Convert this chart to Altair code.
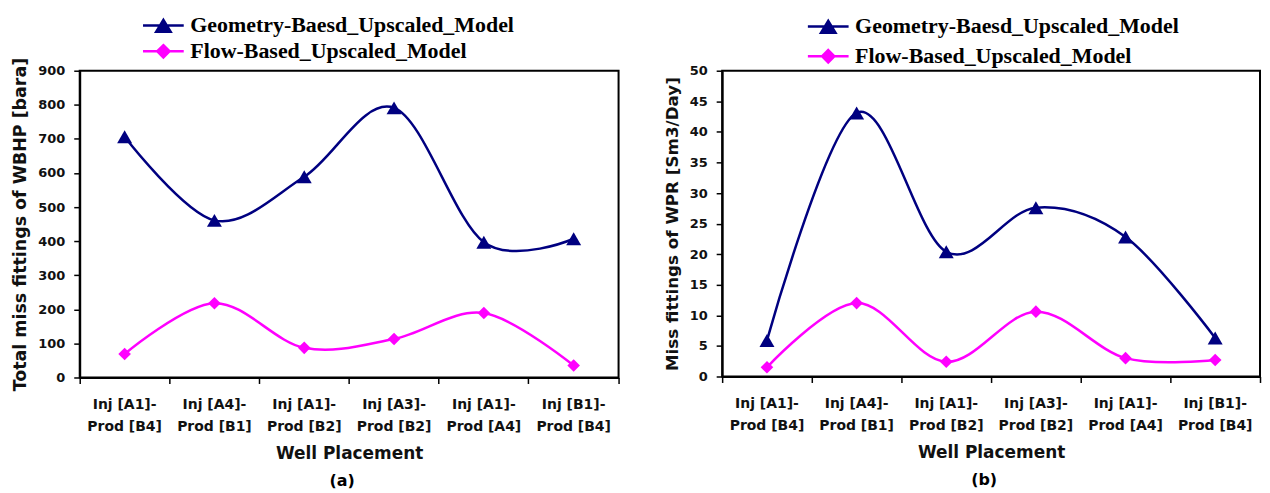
import altair as alt
import pandas as pd

categories = ["Inj [A1]-Prod [B4]", "Inj [A4]-Prod [B1]", "Inj [A1]-Prod [B2]",
              "Inj [A3]-Prod [B2]", "Inj [A1]-Prod [A4]", "Inj [B1]-Prod [B4]"]
series_geo = "Geometry-Baesd_Upscaled_Model"
series_flow = "Flow-Based_Upscaled_Model"

wbhp_geo = [706, 461, 589, 791, 397, 407]
wbhp_flow = [69, 218, 87, 113, 189, 35]
wpr_geo = [5.9, 43.1, 20.4, 27.6, 22.8, 6.3]
wpr_flow = [1.5, 12.0, 2.4, 10.6, 3.0, 2.7]

wbhp_ticks = [0, 100, 200, 300, 400, 500, 600, 700, 800, 900]
wpr_ticks = [0, 5, 10, 15, 20, 25, 30, 35, 40, 45, 50]

NAVY = "#000080"
MAGENTA = "#FF00FF"
TRI = "M-1.46,0L1.46,0M-0.52,0.46L0,-0.4L0.52,0.46Z"
DIA = "M-1.46,0L1.46,0M0,-0.44L0.44,0L0,0.44L-0.44,0Z"

SANS = "DejaVu Sans"
SERIF = "Liberation Serif"


def panel(geo, flow, ticks, ymax, ytitle, ytitle_size, caption, w, h, lx, ly1, ly2):
    df = pd.DataFrame({
        "placement": categories * 2,
        "value": geo + flow,
        "series": [series_geo] * len(categories) + [series_flow] * len(categories),
    })
    x = alt.X(
        "placement:N", sort=categories,
        scale=alt.Scale(type="band", paddingInner=0, paddingOuter=0),
        axis=alt.Axis(
            title="Well Placement",
            labelExpr="[slice(datum.label, 0, 9), slice(datum.label, 9)]",
            labelAngle=0, bandPosition=1, tickExtra=True,
            labelLineHeight=22, labelPadding=14, titlePadding=12,
            titleFontSize=17, labelFontSize=14,
        ),
    )
    y = alt.Y(
        "value:Q",
        scale=alt.Scale(domain=[0, ymax], nice=False, zero=True),
        axis=alt.Axis(title=ytitle, values=ticks, labelPadding=9, titlePadding=8,
                      titleFontSize=ytitle_size, labelFontSize=13),
    )
    base = alt.Chart(df).encode(x=x, y=y)

    def line(s, color, path, legy):
        return base.transform_filter(alt.datum.series == s).mark_line(
            interpolate="cardinal", strokeWidth=2.5
        ).encode(
            color=alt.Color(
                "series:N",
                scale=alt.Scale(domain=[s], range=[color]),
                legend=alt.Legend(
                    orient="none", legendX=lx, legendY=legy, title=None,
                    symbolType=path, symbolSize=784, symbolFillColor=color,
                    symbolStrokeWidth=2.5, labelFont=SERIF, labelFontSize=22,
                    labelFontWeight="bold", labelColor="#000000", labelOffset=11.5,
                    padding=0, labelLimit=500,
                ),
            )
        )

    def pts(s, color, shape, size):
        return base.transform_filter(alt.datum.series == s).mark_point(
            shape=shape, filled=True, size=size, color=color, opacity=1
        )

    return alt.layer(
        line(series_geo, NAVY, TRI, ly1),
        line(series_flow, MAGENTA, DIA, ly2),
        pts(series_geo, NAVY, "triangle-up", 225),
        pts(series_flow, MAGENTA, "diamond", 160),
    ).resolve_scale(color="independent").properties(
        width=w, height=h,
        title=alt.TitleParams(caption, orient="bottom", font=SANS, fontSize=16,
                              fontWeight="bold", color="#000000", offset=12, dx=-7),
    )


left = panel(wbhp_geo, wbhp_flow, wbhp_ticks, 900,
             "Total miss fittings of WBHP [bara]", 17.5, "(a)", 541, 308, 68.5, -61, -35)
right = panel(wpr_geo, wpr_flow, wpr_ticks, 50,
              "Miss fittings of WPR [Sm3/Day]", 16.8, "(b)", 540, 307, 91, -60, -30)

chart = alt.hconcat(left, right, spacing=42).properties(
    padding={"left": 2, "top": 0, "right": 0, "bottom": 0}
).configure_view(
    stroke="#000000", strokeWidth=2
).configure_axis(
    grid=False, domainColor="#000000", domainWidth=2, tickColor="#000000",
    tickWidth=1.5, tickSize=6, labelFont=SANS, labelFontWeight="bold",
    labelColor="#111111", titleFont=SANS, titleFontWeight="bold",
    titleColor="#111111",
).configure_legend(
    padding=0
)

chart.save("out.html", embed_options={"renderer": "svg", "actions": False})
